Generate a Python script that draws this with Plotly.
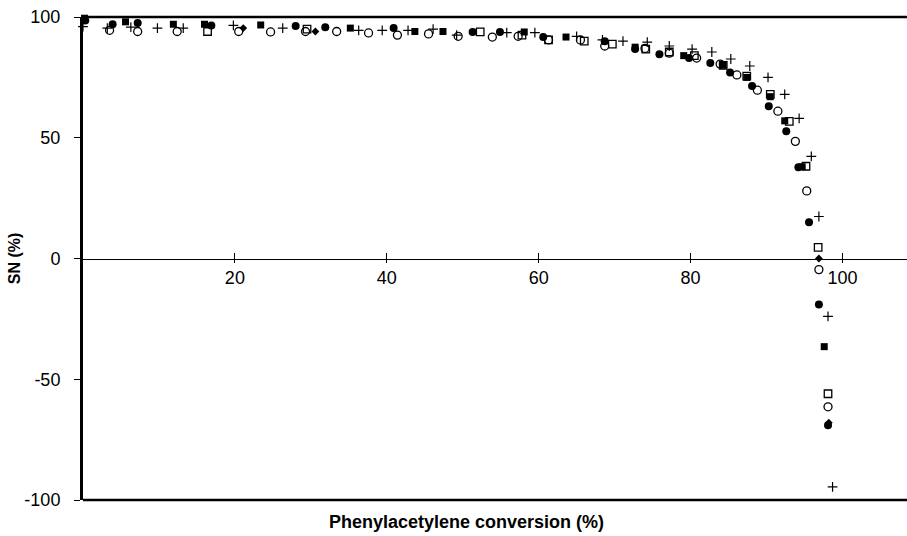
import plotly.graph_objects as go

# Selectivity SN (%) versus phenylacetylene conversion (%) for several runs
run_fc_x = [0.3, 3.9, 7.2, 16.9, 28.0, 31.9, 40.9, 51.3, 54.9, 60.6, 68.7, 72.7, 75.9, 79.8,
            82.6, 85.2, 88.1, 90.3, 92.6, 94.2, 95.6, 96.9, 98.1]
run_fc_y = [98.5, 97.0, 97.5, 96.5, 96.3, 95.8, 95.4, 93.8, 93.8, 91.7, 90.0, 86.7, 84.6, 83.0,
            81.0, 77.0, 71.4, 63.0, 52.7, 37.8, 15.0, -19.0, -69.0]

run_oc_x = [3.5, 7.2, 12.4, 20.5, 24.7, 29.3, 33.4, 37.6, 41.4, 45.5, 49.4, 53.9, 57.3, 61.3,
            65.5, 68.7, 74.0, 77.2, 80.8, 83.9, 86.1, 88.8, 91.5, 93.8, 95.3, 96.9, 98.1]
run_oc_y = [94.5, 94.0, 94.0, 94.0, 93.8, 94.0, 94.0, 93.4, 92.5, 93.0, 92.0, 91.7, 92.0, 90.5,
            90.5, 88.0, 87.0, 85.0, 83.0, 80.5, 76.0, 69.7, 61.0, 48.5, 28.0, -4.6, -61.4]

run_fs_x = [0.2, 5.6, 11.9, 16.0, 23.4, 35.2, 43.7, 47.4, 58.1, 63.6, 72.7, 79.1, 84.3, 87.4,
            90.5, 92.4, 94.7, 97.6]
run_fs_y = [99.5, 98.0, 97.0, 97.0, 96.7, 95.4, 94.0, 94.0, 93.8, 91.7, 87.5, 84.0, 80.0, 75.0,
            67.0, 57.0, 38.0, -36.5]

run_os_x = [16.4, 29.5, 52.3, 57.8, 61.3, 66.0, 69.7, 74.1, 77.2, 80.5, 84.3, 87.4, 90.5, 93.0,
            95.2, 96.8, 98.1]
run_os_y = [94.0, 95.0, 93.8, 92.5, 90.5, 90.0, 88.8, 86.7, 85.5, 84.0, 80.0, 75.5, 68.0, 56.8,
            38.2, 4.6, -56.0]

run_pl_x = [0.0, 3.2, 6.3, 9.8, 13.2, 19.8, 26.3, 36.3, 39.4, 42.8, 46.1, 49.2, 55.8, 59.5,
            65.0, 68.4, 71.1, 74.3, 77.2, 80.2, 82.8, 85.3, 87.8, 90.2, 92.4, 94.3, 95.9, 96.9,
            98.1, 98.7]
run_pl_y = [96.0, 95.4, 95.8, 95.4, 95.4, 96.5, 95.4, 94.5, 94.5, 94.5, 95.0, 92.5, 93.5, 93.5,
            92.0, 90.5, 90.0, 89.6, 88.0, 86.7, 85.5, 82.6, 79.7, 75.0, 68.0, 58.0, 42.3, 17.4,
            -24.0, -94.6]

run_dm_x = [21.1, 30.6, 96.9, 98.2]
run_dm_y = [95.4, 94.0, 0.0, -68.0]

x_ticks = [20, 40, 60, 80, 100]
y_ticks = [-100, -50, 0, 50, 100]
y_tick_text = ["-100", "-50", "0", "50", "100"]
x_title = "Phenylacetylene conversion (%)"
y_title = "SN (%)"

BLACK = "#000000"
FONT = "Liberation Sans, Arial, sans-serif"

fig = go.Figure()

def add_run(xs, ys, symbol, size, lw=1.3):
    fig.add_trace(go.Scatter(
        x=xs, y=ys, mode="markers", showlegend=False, cliponaxis=False,
        marker=dict(symbol=symbol, size=size, color=BLACK,
                    line=dict(color=BLACK, width=lw)),
    ))

add_run(run_fc_x, run_fc_y, "circle", 8, 0)
add_run(run_fs_x, run_fs_y, "square", 7, 0)
add_run(run_dm_x, run_dm_y, "diamond", 6, 0)
add_run(run_oc_x, run_oc_y, "circle-open", 8, 1.3)
add_run(run_os_x, run_os_y, "square-open", 7.5, 1.3)
add_run(run_pl_x, run_pl_y, "cross-thin-open", 7, 1.2)

# empty trace so the overlay axis carrying upward ticks is drawn
fig.add_trace(go.Scatter(x=[], y=[], xaxis="x2", showlegend=False))

x_range = [0, 108.5]

fig.update_layout(
    width=907, height=536,
    margin=dict(l=82.5, r=0, t=17, b=36),
    paper_bgcolor="white", plot_bgcolor="white",
    font=dict(family=FONT, color=BLACK, size=18),
    xaxis=dict(
        range=x_range, anchor="free", position=0.5,
        showgrid=False, zeroline=False,
        showline=True, linecolor=BLACK, linewidth=1.2,
        tickvals=x_ticks, ticks="outside", ticklen=3, tickwidth=1.2, tickcolor=BLACK,
        tickfont=dict(size=18),
    ),
    xaxis2=dict(
        range=x_range, overlaying="x", matches="x", anchor="free", position=0.5,
        showgrid=False, zeroline=False, showline=False,
        tickvals=x_ticks, ticks="inside", ticklen=6, tickwidth=1.2, tickcolor=BLACK,
        showticklabels=False,
    ),
    yaxis=dict(
        range=[-100, 100], showgrid=False, zeroline=False,
        showline=True, linecolor=BLACK, linewidth=3,
        tickvals=y_ticks, ticktext=y_tick_text,
        ticks="outside", ticklen=6, tickwidth=1.2, tickcolor=BLACK,
        ticklabelstandoff=10,
        tickfont=dict(size=18),
        title=dict(text=f"<b>{y_title}</b>", font=dict(size=16), standoff=0),
    ),
    shapes=[
        dict(type="line", xref="paper", yref="paper", x0=0, x1=1, y0=1, y1=1,
             line=dict(color=BLACK, width=2.5)),
        dict(type="line", xref="paper", yref="paper", x0=0, x1=1, y0=0, y1=0,
             line=dict(color=BLACK, width=2.5)),
    ],
    annotations=[
        dict(text=f"<b>{x_title}</b>", xref="paper", yref="paper", x=0.465, y=0,
             yanchor="top", yshift=-10, showarrow=False, font=dict(size=18)),
    ],
)

fig.write_html("out.html")
